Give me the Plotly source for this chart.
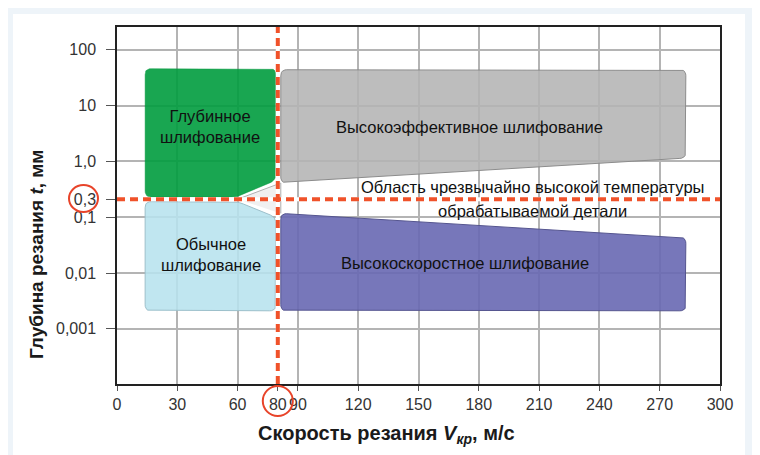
import math
import plotly.graph_objects as go

# ---------------- data ----------------
X_TICKS = [0, 30, 60, 80, 90, 120, 150, 180, 210, 240, 270, 300]
X_TICK_TEXT = [str(v) for v in X_TICKS]
Y_TICKS = [100, 10, 1, 0.21, 0.1, 0.01, 0.001]
Y_TICK_TEXT = ["100", "10", "1,0", "0,3", "0,1", "0,01", "0,001"]

V_CRIT = 80        # critical speed, m/s
T_CRIT = 0.21      # critical depth (labelled 0,3)

# region outlines (speed, depth)
deep_x = [14, 79, 79, 60, 14]
deep_y = [46, 46, 0.46, 0.23, 0.23]
conv_x = [14, 60, 79, 79, 14]
conv_y = [0.19, 0.19, 0.10, 0.0021, 0.0021]
heff_x = [81.5, 283, 283, 81.5]
heff_y = [44, 44, 1.15, 0.41]
hspd_x = [81.5, 283, 283, 81.5]
hspd_y = [0.117, 0.0434, 0.0021, 0.0021]
wedge_x = [60, 81.5, 81.5]
wedge_y = [0.21, 0.41, 0.117]

labels = [
    ("Глубинное<br>шлифование", 46.5, 4.3),
    ("Высокоэффективное шлифование", 175.5, 4.15),
    ("Область чрезвычайно высокой температуры", 206.5, 0.347),
    ("обрабатываемой детали", 206.5, 0.13),
    ("Обычное<br>шлифование", 47, 0.0218),
    ("Высокоскоростное шлифование", 173, 0.015),
]

FONT = "Liberation Sans, Arial, sans-serif"
YR = [-3.99, 2.41]
X_RANGE = [0, 300]

# plot-area geometry (figure pixels) used only for styling helpers
ML, MR, MT, MB = 109, 48, 19, 79
PW, PH = 760 - ML - MR, 455 - MT - MB
SX = PW / (X_RANGE[1] - X_RANGE[0])
SY = PH / (YR[1] - YR[0])


def fx(page_x):
    return (page_x - 8 - ML) / PW


def fy(page_y):
    return 1 - (page_y - 8 - MT) / PH


def rounded(xs, ys, r=6, n=6):
    """Round polygon corners (radius r screen px) - styling only."""
    P = [(x * SX, math.log10(y) * SY) for x, y in zip(xs, ys)]
    m = len(P)
    out = []
    for i in range(m):
        p0, p1, p2 = P[i - 1], P[i], P[(i + 1) % m]
        a = (p0[0] - p1[0], p0[1] - p1[1])
        b = (p2[0] - p1[0], p2[1] - p1[1])
        la, lb = math.hypot(*a), math.hypot(*b)
        d = min(r, la / 2, lb / 2)
        s = (p1[0] + a[0] / la * d, p1[1] + a[1] / la * d)
        e = (p1[0] + b[0] / lb * d, p1[1] + b[1] / lb * d)
        for k in range(n + 1):
            t = k / n
            qx = (1 - t) ** 2 * s[0] + 2 * (1 - t) * t * p1[0] + t ** 2 * e[0]
            qy = (1 - t) ** 2 * s[1] + 2 * (1 - t) * t * p1[1] + t ** 2 * e[1]
            out.append((qx, qy))
    out.append(out[0])
    return [q[0] / SX for q in out], [10 ** (q[1] / SY) for q in out]


fig = go.Figure()


def region(xs, ys, fill, line, lw=1, r=6):
    rx, ry = rounded(xs, ys, r) if r else (xs, ys)
    fig.add_trace(go.Scatter(x=rx, y=ry, fill="toself", mode="lines",
                             fillcolor=fill, line=dict(color=line, width=lw),
                             hoverinfo="skip", showlegend=False))


region(wedge_x, wedge_y, "rgba(238,238,238,0.9)", "#b0b0b0", 1, 0)
region(heff_x, heff_y, "rgba(180,180,180,0.88)", "#8c8c8c", 1)
region(hspd_x, hspd_y, "rgba(104,104,178,0.9)", "#55558f", 1)
region(deep_x, deep_y, "rgba(0,156,62,0.9)", "rgba(0,150,60,0.9)", 0.5)
region(conv_x, conv_y, "rgba(183,226,238,0.88)", "#9cbfca", 1)

for txt, x, y in labels:
    fig.add_annotation(x=x, y=math.log10(y), text=txt, showarrow=False,
                       font=dict(family=FONT, size=16.5, color="#111"),
                       xanchor="center", yanchor="middle")

# critical lines: white underlay + red dashes
for col, dash in (("white", "solid"), ("#f0522a", "8px,5px")):
    fig.add_shape(type="line", xref="x", yref="paper", x0=V_CRIT, x1=V_CRIT,
                  y0=0, y1=1, line=dict(color=col, width=4, dash=dash))
    fig.add_shape(type="line", xref="paper", yref="y", x0=0, x1=1,
                  y0=T_CRIT, y1=T_CRIT,
                  line=dict(color=col, width=4, dash=dash))

# circles round critical tick labels
fig.add_shape(type="circle", xref="x", yref="paper", xsizemode="pixel",
              ysizemode="pixel", xanchor=V_CRIT, yanchor=0,
              x0=-15, x1=15, y0=-32, y1=-2,
              line=dict(color="#e8442a", width=2))
fig.add_shape(type="circle", xref="paper", yref="paper",
              x0=fx(69), x1=fx(98), y0=fy(212), y1=fy(185),
              line=dict(color="#e8442a", width=2))

# background panels
fig.add_shape(type="rect", xref="paper", yref="paper", layer="below",
              x0=fx(5), x1=fx(770), y0=fy(470), y1=fy(7),
              fillcolor="#eef4f9", line=dict(width=0))
fig.add_shape(type="rect", xref="paper", yref="paper", layer="below",
              x0=fx(13), x1=fx(745), y0=fy(470), y1=fy(14),
              fillcolor="white", line=dict(width=0))

# axis titles
fig.add_annotation(xref="paper", yref="paper", x=fx(386), y=fy(434),
                   showarrow=False,
                   text="<b>Скорость резания <i>V</i><sub><i>кр</i></sub>, м/с</b>",
                   font=dict(family=FONT, size=20, color="#1a1a1a"),
                   xanchor="center", yanchor="middle")
fig.add_annotation(xref="paper", yref="paper", x=fx(37), y=fy(255),
                   showarrow=False, textangle=-90,
                   text="<b>Глубина резания <i>t</i>, мм</b>",
                   font=dict(family=FONT, size=19, color="#1a1a1a"),
                   xanchor="center", yanchor="middle")

fig.update_layout(
    width=760, height=455,
    margin=dict(l=ML, r=MR, t=MT, b=MB, autoexpand=False),
    paper_bgcolor="white", plot_bgcolor="white",
    showlegend=False,
    font=dict(family=FONT, size=16, color="#333"),
)
fig.update_xaxes(range=X_RANGE, tickvals=X_TICKS, ticktext=X_TICK_TEXT,
                 automargin=False,
                 showgrid=True, gridcolor="#b4b4b4", gridwidth=1.5,
                 showline=True, linecolor="#222", linewidth=1.5, mirror=True,
                 ticks="outside", ticklen=5, tickcolor="#555", zeroline=False,
                 tickfont=dict(size=16, color="#333"))
fig.update_yaxes(type="log", range=YR, tickvals=Y_TICKS, ticktext=Y_TICK_TEXT,
                 automargin=False, ticklabelstandoff=7,
                 showgrid=True, gridcolor="#b4b4b4", gridwidth=1.5,
                 showline=True, linecolor="#222", linewidth=1.5, mirror=True,
                 ticks="outside", ticklen=9, tickcolor="#555", zeroline=False,
                 tickfont=dict(size=16, color="#333"))

fig.write_html("out.html")
